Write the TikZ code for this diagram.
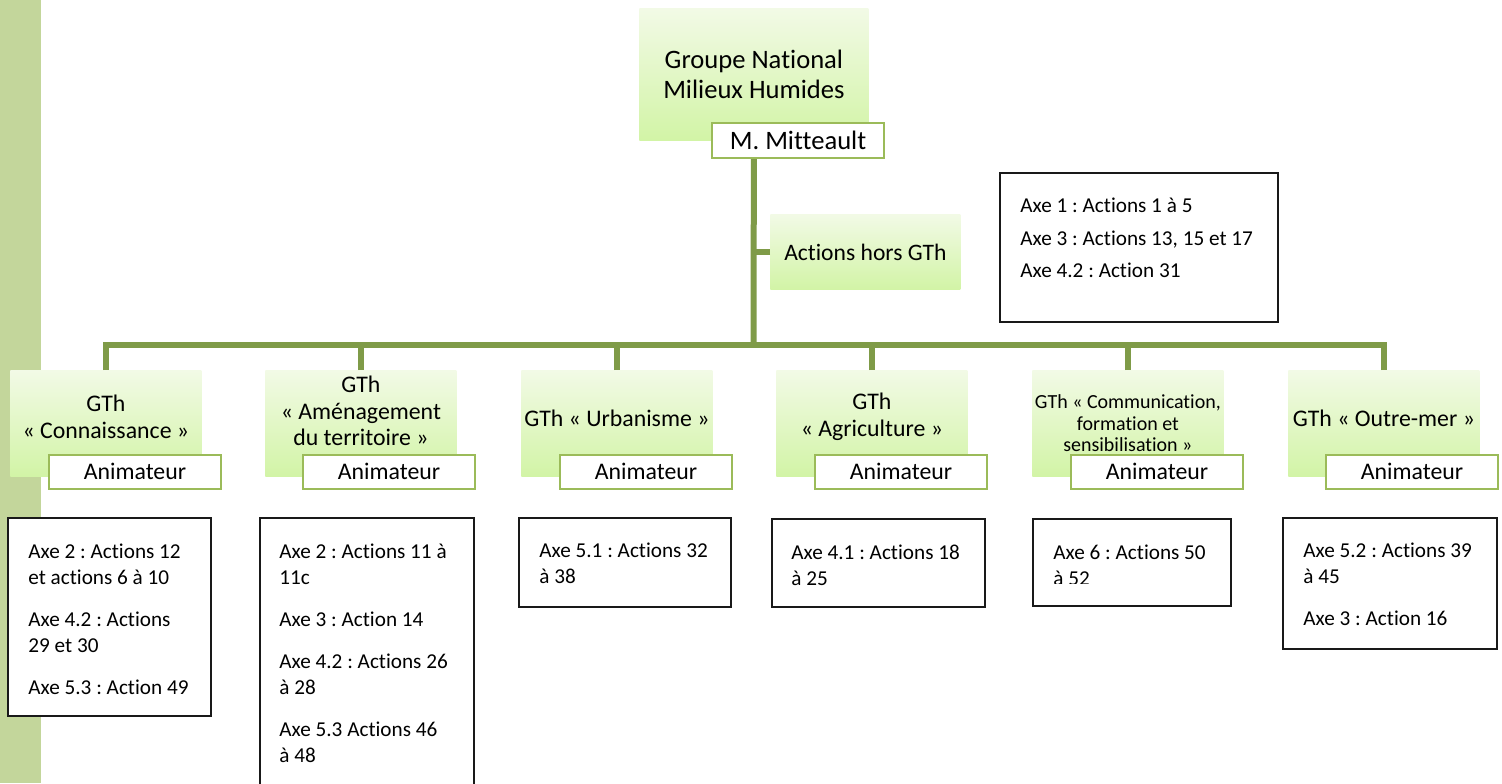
\documentclass[tikz,border=0pt]{standalone}
\usepackage{fontspec}
\setmainfont{Carlito}[Ligatures=NoCommon]
\frenchspacing
\usetikzlibrary{calc}

\definecolor{sidebar}{HTML}{C3D69B}
\definecolor{linkgreen}{HTML}{7F9B48}
\definecolor{animgreen}{HTML}{9BBB59}
\definecolor{gtop}{HTML}{F2FAE6}
\definecolor{gbot}{HTML}{D2F4A6}

\begin{document}
\begin{tikzpicture}[
  x=0.5pt, y=-0.5pt,
  gthbox/.style={anchor=north west, top color=gtop, bottom color=gbot, draw=none, minimum width=95.5pt, minimum height=53pt, inner sep=0pt},
  gthtext/.style={align=center, inner sep=0pt, font=\fontsize{11.9}{13.3}\selectfont},
  animbox/.style={anchor=north west, draw=animgreen, line width=1pt, fill=white, minimum width=86pt, minimum height=17pt, inner sep=0pt, font=\fontsize{11.9}{13.3}\selectfont},
  actframe/.style={anchor=north west, draw=black!90, line width=1pt, fill=white, inner sep=0pt},
  acttext/.style={anchor=north west, align=left, inner sep=0pt, font=\fontsize{10.6}{13}\selectfont},
  link/.style={draw=linkgreen, line width=3pt}
]
\clip (0,0) rectangle (1502,783);
\fill[sidebar] (0,0) rectangle (41,783);

% top of the chart
\coordinate (hub) at (753.5,345);
\node[gthbox, minimum width=114.5pt, minimum height=66pt, align=center, font=\fontsize{13.3}{14.8}\selectfont] (gnmh) at (639,8) {Groupe National\\Milieux Humides};
\draw[link] (gnmh.south) -- (hub);
\node[animbox, minimum height=17.5pt, font=\fontsize{13.3}{14.8}\selectfont] (mitt) at (711,122) {M. Mitteault};
\node[gthbox, minimum width=95pt, minimum height=37.5pt, font=\fontsize{11.8}{13.3}\selectfont] (hors) at (770,214) {Actions hors GTh};
\draw[link] (hors.west) -- (hors.west -| hub);

\node[actframe, minimum width=139pt, minimum height=74.5pt] (ax0) at (999,172) {};
\node[acttext] (ax0t) at ($(ax0.north west)+(21,22)$) {\strut Axe 1 : Actions 1 à 5\\[3.25pt]Axe 3 : Actions 13, 15 et 17\\[3.25pt]Axe 4.2 : Action 31};

% groupes thematiques
\node[gthbox] (g1) at (10,370) {};
\node[gthbox] (g2) at (265,370) {};
\node[gthbox] (g3) at (521,370) {};
\node[gthbox] (g4) at (776,370) {};
\node[gthbox] (g5) at (1032,370) {};
\node[gthbox] (g6) at (1288,370) {};
\draw[link] (g1.north) |- (hub);
\draw[link] (g2.north) |- (hub);
\draw[link] (g3.north) |- (hub);
\draw[link] (g4.north) |- (hub);
\draw[link] (g5.north) |- (hub);
\draw[link] (g6.north) |- (hub);

\node[gthtext] (g1t) at ($(g1.center)+(0,-6.5)$) {GTh\\« Connaissance »};
\node[gthtext] (g2t) at ($(g2.center)+(0,-12.5)$) {GTh\\« Aménagement\\du territoire »};
\node[gthtext] (g3t) at ($(g3.center)+(0,-5)$) {GTh « Urbanisme »};
\node[gthtext] (g4t) at ($(g4.center)+(0,-6.5)$) {GTh\\« Agriculture »};
\node[gthtext, font=\fontsize{10}{10.8}\selectfont] (g5t) at ($(g5.center)+(0,0)$) {GTh « Communication,\\formation et\\sensibilisation »};
\node[gthtext] (g6t) at ($(g6.center)+(0,-5)$) {GTh « Outre-mer »};

\node[animbox] (a1) at ($(g1.south west)+(38,-23)$) {Animateur};
\node[animbox] (a2) at ($(g2.south west)+(37,-23)$) {Animateur};
\node[animbox] (a3) at ($(g3.south west)+(38,-23)$) {Animateur};
\node[animbox] (a4) at ($(g4.south west)+(38,-23)$) {Animateur};
\node[animbox] (a5) at ($(g5.south west)+(38,-23)$) {Animateur};
\node[animbox] (a6) at ($(g6.south west)+(37,-23)$) {Animateur};

% listes d'actions
\node[actframe, minimum width=101.5pt, minimum height=99pt] (ax1) at (7,517) {};
\node[acttext] (ax1t) at ($(ax1.north west)+(21,23)$) {\strut Axe 2 : Actions 12\\et actions 6 à 10\\[8pt]Axe 4.2 : Actions\\29 et 30\\[8pt]Axe 5.3 : Action 49};
\node[actframe, minimum width=107pt, minimum height=136.5pt] (ax2) at (259,517) {};
\node[acttext] (ax2t) at ($(ax2.north west)+(20,23)$) {\strut Axe 2 : Actions 11 à\\11c\\[8pt]Axe 3 : Action 14\\[8pt]Axe 4.2 : Actions 26\\à 28\\[8pt]Axe 5.3 Actions 46\\à 48};
\node[actframe, minimum width=106pt, minimum height=44.5pt] (ax3) at (518,517) {};
\node[acttext] (ax3t) at ($(ax3.north west)+(21,22)$) {\strut Axe 5.1 : Actions 32\\à 38};
\node[actframe, minimum width=106.5pt, minimum height=44pt] (ax4) at (771,518) {};
\node[acttext] (ax4t) at ($(ax4.north west)+(20,23)$) {\strut Axe 4.1 : Actions 18\\à 25};
\node[actframe, minimum width=99pt, minimum height=43.5pt] (ax5) at (1032,518) {};
\begin{scope}
  \clip (1032,518) rectangle (1230,583);
  \node[acttext] (ax5t) at ($(ax5.north west)+(21,23)$) {\strut Axe 6 : Actions 50\\à 52};
\end{scope}
\node[actframe, minimum width=107pt, minimum height=65.5pt] (ax6) at (1282,517) {};
\node[acttext] (ax6t) at ($(ax6.north west)+(21,22)$) {\strut Axe 5.2 : Actions 39\\à 45\\[8pt]Axe 3 : Action 16};
\end{tikzpicture}
\end{document}
